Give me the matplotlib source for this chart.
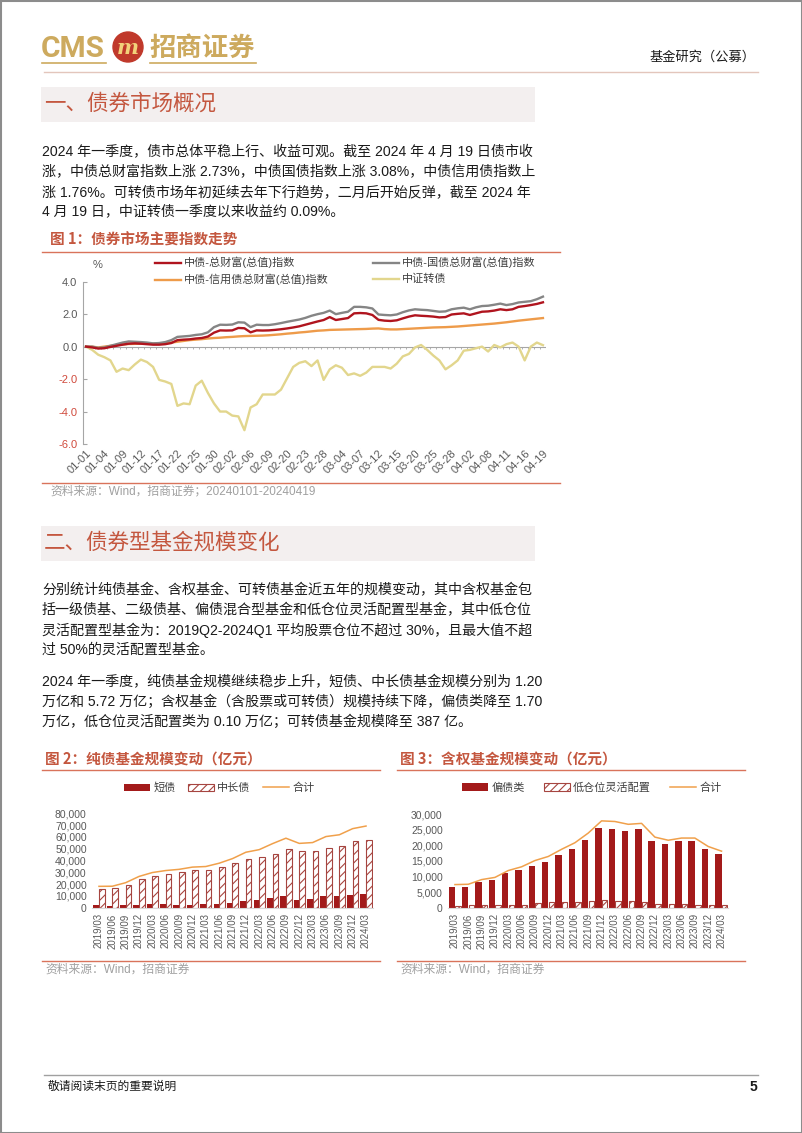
import numpy as np
import matplotlib
matplotlib.use('Agg')
import matplotlib.pyplot as plt
from matplotlib.patches import Rectangle, Circle

W, H = 802, 1133
FONTS = ['Liberation Sans', 'Noto Sans CJK SC']
plt.rcParams['font.family'] = FONTS
plt.rcParams['hatch.linewidth'] = 0.8

# ---------------- data: figure 1 (cumulative return, %) ----------------
dates = ['01-01', '01-02', '01-03', '01-04', '01-05', '01-08', '01-09', '01-10', '01-11', '01-12',
         '01-15', '01-16', '01-17', '01-18', '01-19', '01-22', '01-23', '01-24', '01-25', '01-26',
         '01-29', '01-30', '01-31', '02-01', '02-02', '02-04', '02-05', '02-06', '02-07', '02-08',
         '02-09', '02-18', '02-19', '02-20', '02-21', '02-22', '02-23', '02-26', '02-27', '02-28',
         '02-29', '03-01', '03-04', '03-05', '03-06', '03-07', '03-08', '03-11', '03-12', '03-13',
         '03-14', '03-15', '03-18', '03-19', '03-20', '03-21', '03-22', '03-25', '03-26', '03-27',
         '03-28', '03-29', '04-01', '04-02', '04-03', '04-07', '04-08', '04-09', '04-10', '04-11',
         '04-12', '04-15', '04-16', '04-17', '04-18', '04-19']

total_wealth = [0, -0.05, -0.12, -0.1, -0.02, 0.05, 0.12, 0.18, 0.2, 0.18,
                0.15, 0.12, 0.12, 0.15, 0.22, 0.4, 0.43, 0.45, 0.5, 0.53,
                0.62, 0.86, 1.0, 0.99, 1.0, 1.15, 1.13, 0.88, 1.0, 0.99,
                1.0, 1.03, 1.07, 1.12, 1.18, 1.25, 1.35, 1.45, 1.55, 1.64,
                1.82, 1.64, 1.7, 1.76, 2.05, 2.07, 2.05, 1.95, 1.65, 1.6,
                1.58, 1.62, 1.74, 1.85, 1.93, 1.9, 1.88, 1.85, 1.8, 1.82,
                1.98, 2.02, 2.05, 1.95, 2.05, 2.15, 2.17, 2.22, 2.3, 2.25,
                2.3, 2.45, 2.5, 2.56, 2.63, 2.73]

treasury = [0, 0.0, -0.08, -0.05, 0.05, 0.15, 0.25, 0.32, 0.3, 0.28,
            0.25, 0.2, 0.22, 0.28, 0.4, 0.6, 0.63, 0.66, 0.72, 0.76,
            0.88, 1.2, 1.35, 1.34, 1.36, 1.5, 1.48, 1.2, 1.35, 1.33,
            1.33, 1.38, 1.45, 1.53, 1.6, 1.67, 1.77, 1.9, 2.0, 2.08,
            2.22, 2.0, 2.08, 2.15, 2.45, 2.45, 2.42, 2.35, 1.98, 1.95,
            1.93, 1.98, 2.12, 2.23, 2.3, 2.27, 2.25, 2.2, 2.15, 2.17,
            2.3, 2.36, 2.4, 2.3, 2.42, 2.5, 2.52, 2.58, 2.65, 2.56,
            2.62, 2.72, 2.76, 2.8, 2.92, 3.08]

credit = [0, 0.0, -0.05, 0.0, 0.05, 0.1, 0.14, 0.16, 0.17, 0.18,
          0.18, 0.19, 0.2, 0.22, 0.25, 0.3, 0.35, 0.4, 0.43, 0.46,
          0.5, 0.53, 0.55, 0.58, 0.6, 0.63, 0.65, 0.66, 0.67, 0.68,
          0.7, 0.73, 0.76, 0.8, 0.83, 0.87, 0.9, 0.94, 0.98, 1.0,
          1.03, 1.04, 1.05, 1.06, 1.07, 1.08, 1.09, 1.11, 1.12, 1.08,
          1.06, 1.06, 1.08, 1.1, 1.12, 1.14, 1.16, 1.18, 1.19, 1.2,
          1.22, 1.24, 1.27, 1.3, 1.33, 1.36, 1.39, 1.42, 1.46, 1.5,
          1.55, 1.6, 1.64, 1.68, 1.72, 1.76]

convertible = [0, -0.2, -0.5, -0.65, -0.85, -1.55, -1.35, -1.45, -1.1, -0.8,
               -0.95, -1.25, -2.05, -2.15, -2.3, -3.65, -3.5, -3.55, -2.4, -2.1,
               -2.85, -3.5, -4.0, -4.0, -4.25, -4.3, -5.15, -3.75, -3.55, -2.95,
               -2.95, -2.95, -2.65, -1.95, -1.25, -1.0, -0.9, -1.2, -0.85, -2.05,
               -1.4, -1.15, -1.3, -1.75, -1.65, -1.8, -1.6, -1.25, -1.25, -1.25,
               -1.35, -1.05, -0.6, -0.45, -0.05, 0.1, -0.2, -0.55, -0.85, -1.4,
               -1.15, -0.85, -0.25, -0.2, -0.1, 0.0, -0.3, 0.1, -0.05, 0.15,
               0.25, 0.0, -0.85, 0.0, 0.25, 0.09]

# ---------------- data: figures 2 and 3 (亿元) ----------------
quarters = ['2019/03', '2019/06', '2019/09', '2019/12', '2020/03', '2020/06', '2020/09',
            '2020/12', '2021/03', '2021/06', '2021/09', '2021/12', '2022/03', '2022/06',
            '2022/09', '2022/12', '2023/03', '2023/06', '2023/09', '2023/12', '2024/03']

short_bond = [2000, 1500, 2000, 2500, 3000, 3000, 2500, 2500, 3000, 3500, 4000,
              5500, 6500, 8500, 9500, 6500, 7500, 9500, 9500, 10500, 12000]
mid_long_bond = [16100, 16700, 19200, 24000, 26800, 28500, 30000, 31900, 31900, 34200, 37600,
                 41500, 42700, 45800, 49400, 48000, 47700, 50800, 52300, 56500, 57200]
pure_total = [18100, 18200, 21200, 26500, 29800, 31500, 32500, 34400, 34900, 37700, 41600,
              47000, 49200, 54300, 58900, 54500, 55200, 60300, 61800, 67000, 69200]

bond_heavy = [6700, 6700, 8100, 8900, 11100, 12100, 13500, 14700, 16900, 18900, 21700,
              25400, 25300, 24600, 25200, 21300, 20400, 21200, 21300, 18700, 17100]
low_equity_flex = [700, 800, 900, 800, 800, 1000, 1600, 1700, 1800, 1900, 2200,
                   2400, 2300, 2100, 1800, 1300, 1200, 1100, 1000, 900, 1000]
equity_total = [7400, 7500, 9000, 9700, 11900, 13100, 15100, 16400, 18700, 20800, 23900,
                27800, 27600, 26700, 27000, 22600, 21600, 22300, 22300, 19600, 18100]

# ---------------- styles ----------------
TITLE_RED = '#C4573F'
LINE_RED = '#D9735B'
GOLD = '#CDAA5E'
TEXT = '#1A1A1A'
GRAY_TXT = '#595959'
BAR_RED = '#A31A1A'
HATCH_EDGE = '#A64540'
SUM_LINE = '#F0A04B'


def rect(l, t, r, b):
    return [l / W, 1 - b / H, (r - l) / W, (b - t) / H]


fig = plt.figure(figsize=(W / 100, H / 100), dpi=100)
page = fig.add_axes([0, 0, 1, 1], zorder=0)
page.set_xlim(0, W)
page.set_ylim(H, 0)
page.axis('off')

# page frame
page.add_patch(Rectangle((0.5, 0.5), W - 1, H - 1, fill=False, ec='#8C8C8C', lw=1.5))

# ---------------- header ----------------
page.text(41, 49, 'CMS', fontsize=21.5, fontweight='bold', color=GOLD, family='Roboto', va='center')
page.add_patch(Circle((128, 47), 15, color='#C0392B'))
page.text(128, 48, 'm', fontsize=15, fontweight='bold', style='italic', color='#F2D27A',
          ha='center', va='center', family='DejaVu Serif')
page.text(149, 48, '招商证券', fontsize=19, fontweight='bold', color=GOLD,
          family='Noto Sans CJK SC', va='center')
page.plot([42, 106], [63, 63], color=GOLD, lw=1.2)
page.plot([150, 256], [63, 63], color=GOLD, lw=1.2)
page.text(756, 57, '基金研究（公募）', fontsize=9.5, color=TEXT, ha='right', va='center')
page.plot([44, 758], [72, 72], color='#E3C6BC', lw=1)


def section(y_top, title):
    page.add_patch(Rectangle((41, y_top), 494, 35, color='#F3EFEF', lw=0))
    page.text(44, y_top + 17, title, fontsize=15.5, color=TITLE_RED, va='center',
              family='Noto Sans CJK SC')


def paragraph(lines, y0, step=20):
    for k, s in enumerate(lines):
        page.text(42, y0 + k * step, s, fontsize=10.1, color=TEXT, va='center')


section(87, '一、债券市场概况')
paragraph(['2024 年一季度，债市总体平稳上行、收益可观。截至 2024 年 4 月 19 日债市收',
           '涨，中债总财富指数上涨 2.73%，中债国债指数上涨 3.08%，中债信用债指数上',
           '涨 1.76%。可转债市场年初延续去年下行趋势，二月后开始反弹，截至 2024 年',
           '4 月 19 日，中证转债一季度以来收益约 0.09%。'], 152)

# ---------------- figure 1 ----------------
page.text(50, 240, '图 1：债券市场主要指数走势', fontsize=10.5, fontweight='bold', color=TITLE_RED,
          va='center', family='Noto Sans CJK SC')
page.plot([42, 560], [252, 252], color=LINE_RED, lw=1)

ax1 = fig.add_axes(rect(83, 281.7, 546, 444), zorder=2)
ax1.patch.set_alpha(0)
x = np.arange(len(dates))
l_conv, = ax1.plot(x, convertible, color='#E2D68D', lw=1.7, label='中证转债')
l_cred, = ax1.plot(x, credit, color='#EE9B4A', lw=1.7, label='中债-信用债总财富(总值)指数')
l_tre, = ax1.plot(x, treasury, color='#858585', lw=1.7, label='中债-国债总财富(总值)指数')
l_tot, = ax1.plot(x, total_wealth, color='#B0141E', lw=1.7, label='中债-总财富(总值)指数')
ax1.set_xlim(-0.5, len(dates) - 0.5)
ax1.set_ylim(-6, 4)
ax1.axhline(0, color='#A6A6A6', lw=0.8, zorder=0)
ax1.vlines(np.arange(-0.5, len(dates), 1), -0.12, 0.0, color='#A6A6A6', lw=0.6, zorder=0)
for sp in ['top', 'right', 'bottom']:
    ax1.spines[sp].set_visible(False)
ax1.spines['left'].set_color('#A6A6A6')
ax1.spines['left'].set_linewidth(0.8)
yt = [-6, -4, -2, 0, 2, 4]
ax1.set_yticks(yt)
ax1.set_yticklabels(['%.1f' % v for v in yt], fontsize=8)
for v, lab in zip(yt, ax1.get_yticklabels()):
    lab.set_color('#D04A3C' if v < 0 else GRAY_TXT)
ax1.tick_params(axis='y', direction='in', length=3, color='#A6A6A6', pad=4)
ax1.set_xticks(x[::3])
ax1.set_xticklabels(dates[::3], rotation=45, ha='right', rotation_mode='anchor',
                    fontsize=8, color=GRAY_TXT)
ax1.tick_params(axis='x', length=0, pad=3)
ax1.legend(handles=[l_tot, l_cred, l_tre, l_conv], ncol=2, loc='upper left',
           bbox_to_anchor=(155 / W, 1 - 257 / H), bbox_transform=fig.transFigure,
           frameon=False, fontsize=8, handlelength=2.3, handletextpad=0.3,
           columnspacing=4.0, borderpad=0, borderaxespad=0, labelspacing=0.5,
           labelcolor='#404040')
page.text(98, 265, '%', fontsize=8, ha='center', va='center', color=GRAY_TXT)
page.plot([42, 560], [483, 483], color=LINE_RED, lw=1)
page.text(50, 491, '资料来源：Wind，招商证券；20240101-20240419', fontsize=8.5,
          color='#A0A0A0', va='center')

# ---------------- section 2 ----------------
section(526, '二、债券型基金规模变化')
paragraph(['分别统计纯债基金、含权基金、可转债基金近五年的规模变动，其中含权基金包',
           '括一级债基、二级债基、偏债混合型基金和低仓位灵活配置型基金，其中低仓位',
           '灵活配置型基金为：2019Q2-2024Q1 平均股票仓位不超过 30%，且最大值不超',
           '过 50%的灵活配置型基金。'], 590)
paragraph(['2024 年一季度，纯债基金规模继续稳步上升，短债、中长债基金规模分别为 1.20',
           '万亿和 5.72 万亿；含权基金（含股票或可转债）规模持续下降，偏债类降至 1.70',
           '万亿，低仓位灵活配置类为 0.10 万亿；可转债基金规模降至 387 亿。'], 682)


def bar_chart(box, solid, hatched, total, names, ymax, ystep, offs, widths,
              leg_x, colsp, title, title_x, line_l, line_r):
    page.text(title_x, 760, title, fontsize=10.5, fontweight='bold', color=TITLE_RED,
              va='center', family='Noto Sans CJK SC')
    page.plot([line_l, line_r], [770, 770], color=LINE_RED, lw=1)
    page.plot([line_l, line_r], [961, 961], color=LINE_RED, lw=1)
    page.text(title_x, 970, '资料来源：Wind，招商证券', fontsize=8.5, color='#A0A0A0', va='center')

    ax = fig.add_axes(rect(*box), zorder=2)
    ax.patch.set_alpha(0)
    xq = np.arange(len(quarters))
    b1 = ax.bar(xq - offs, solid, width=widths[0], color=BAR_RED, label=names[0])
    b2 = ax.bar(xq + offs, hatched, width=widths[1], facecolor='white', edgecolor=HATCH_EDGE,
                hatch='////', lw=0.8, label=names[1])
    l3, = ax.plot(xq, total, color=SUM_LINE, lw=1.1, label=names[2])
    ax.set_xlim(-0.5, len(quarters) - 0.5)
    ax.set_ylim(0, ymax)
    yt = np.arange(0, ymax + 1, ystep)
    ax.set_yticks(yt)
    ax.set_yticklabels(['{:,}'.format(int(v)) for v in yt], fontsize=7.5, color=GRAY_TXT)
    ax.set_xticks(xq)
    ax.set_xticklabels(quarters, rotation=90, fontsize=7, color=GRAY_TXT)
    ax.tick_params(length=0, pad=4)
    for sp in ['top', 'right', 'left']:
        ax.spines[sp].set_visible(False)
    ax.spines['bottom'].set_color('#D9D9D9')
    ax.legend(handles=[b1, b2, l3], ncol=3, loc='center left',
              bbox_to_anchor=(leg_x / W, 1 - 788 / H), bbox_transform=fig.transFigure,
              frameon=False, fontsize=8, handlelength=2.35, handletextpad=0.3,
              columnspacing=colsp, borderpad=0, borderaxespad=0, labelcolor='#404040')
    return ax


bar_chart((92.3, 813.3, 372.7, 907.7), short_bond, mid_long_bond, pure_total,
          ['短债', '中长债', '合计'], 80000, 10000, 0.21, (0.42, 0.42),
          124, 1.1, '图 2：纯债基金规模变动（亿元）', 45, 42, 380)
bar_chart((448.3, 814, 728.2, 907.7), bond_heavy, low_equity_flex, equity_total,
          ['偏债类', '低仓位灵活配置', '合计'], 30000, 5000, 0.24, (0.48, 0.4),
          462, 1.7, '图 3：含权基金规模变动（亿元）', 400, 397, 745)

# ---------------- footer ----------------
page.plot([44, 758], [1075, 1075], color='#A0A0A0', lw=1)
page.text(48, 1087, '敬请阅读末页的重要说明', fontsize=8.5, color=TEXT, va='center')
page.text(757, 1087, '5', fontsize=10, fontweight='bold', color=TEXT, ha='right', va='center')

fig.savefig('out.png', dpi=100)
